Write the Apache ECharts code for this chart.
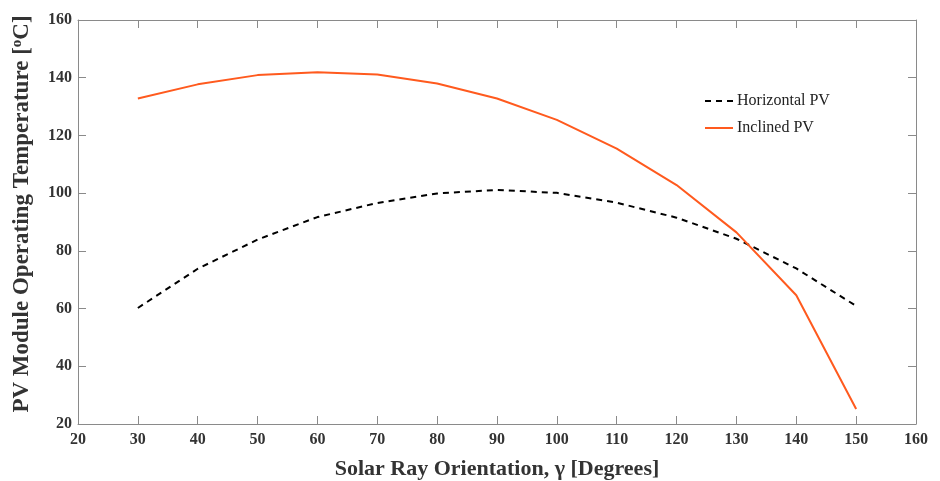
<!DOCTYPE html>
<html><head><meta charset="utf-8">
<script src="https://cdn.jsdelivr.net/npm/echarts@6/dist/echarts.min.js"></script>
<style>html,body{margin:0;padding:0;background:#fff}#c{width:940px;height:481px}</style>
</head><body><div id="c"></div>
<script>
const angles = [30,40,50,60,70,80,90,100,110,120,130,140,150];
const horizontalPV = [60.2,73.8,83.9,91.7,96.6,99.9,101.1,100.1,96.7,91.5,84.2,73.9,60.9];
const inclinedPV = [132.8,137.7,140.9,141.9,141.1,138.0,132.8,125.4,115.4,102.8,86.4,64.6,25.2];
const xTicks = {min:20, max:160, interval:10};
const yTicks = {min:20, max:160, interval:20};

const font = 'Liberation Serif';
const axisGray = '#8a8a8a';
const chart = echarts.init(document.getElementById('c'));
const baseAxis = (o) => Object.assign({
  type:'value',
  axisLine:{show:true, lineStyle:{color:axisGray, width:1}},
  axisTick:{show:true, inside:true, length:8, lineStyle:{color:axisGray}},
  splitLine:{show:false}
}, o);
chart.setOption({
  animation:false,
  backgroundColor:'#fff',
  grid:{left:78, right:24, top:20, bottom:57, containLabel:false, outerBoundsMode:'none'},
  legend:{
    left:699, top:88, orient:'vertical', itemGap:11, itemWidth:28, itemHeight:14,
    itemStyle:{opacity:0},
    textStyle:{fontFamily:font, fontSize:16, color:'#222', padding:[0,0,0,-1]},
    data:['Horizontal PV','Inclined PV']
  },
  xAxis:[
    baseAxis({position:'bottom', min:xTicks.min, max:xTicks.max, interval:xTicks.interval,
      name:'Solar Ray Orientation, γ [Degrees]', nameLocation:'middle', nameGap:34,
      nameTextStyle:{fontFamily:font, fontSize:22, fontWeight:'bold', color:'#333'},
      axisLabel:{fontFamily:font, fontSize:16, fontWeight:'bold', color:'#333', margin:8}}),
    baseAxis({position:'top', min:xTicks.min, max:xTicks.max, interval:xTicks.interval,
      axisLabel:{show:false}})
  ],
  yAxis:[
    baseAxis({position:'left', min:yTicks.min, max:yTicks.max, interval:yTicks.interval,
      name:'PV Module Operating Temperature [{sup|o}C]', nameLocation:'middle', nameGap:43,
      nameTextStyle:{fontFamily:font, fontSize:23, fontWeight:'bold', color:'#333', padding:[0,0,0,16],
        rich:{sup:{fontFamily:font, fontSize:15, fontWeight:'bold', color:'#333', verticalAlign:'top', padding:[0,0,10,0]}}},
      axisLabel:{fontFamily:font, fontSize:16, fontWeight:'bold', color:'#333', margin:6}}),
    baseAxis({position:'right', min:yTicks.min, max:yTicks.max, interval:yTicks.interval,
      axisLabel:{show:false}})
  ],
  series:[
    {name:'Horizontal PV', type:'line', xAxisIndex:0, yAxisIndex:0, symbol:'none', smooth:false,
      data:angles.map((a,i)=>[a,horizontalPV[i]]),
      itemStyle:{color:'#000'},
      lineStyle:{color:'#000', width:2, type:[6,5]}},
    {name:'Inclined PV', type:'line', xAxisIndex:0, yAxisIndex:0, symbol:'none', smooth:false,
      data:angles.map((a,i)=>[a,inclinedPV[i]]),
      itemStyle:{color:'#FF5A1E'},
      lineStyle:{color:'#FF5A1E', width:2}}
  ]
});
</script></body></html>
